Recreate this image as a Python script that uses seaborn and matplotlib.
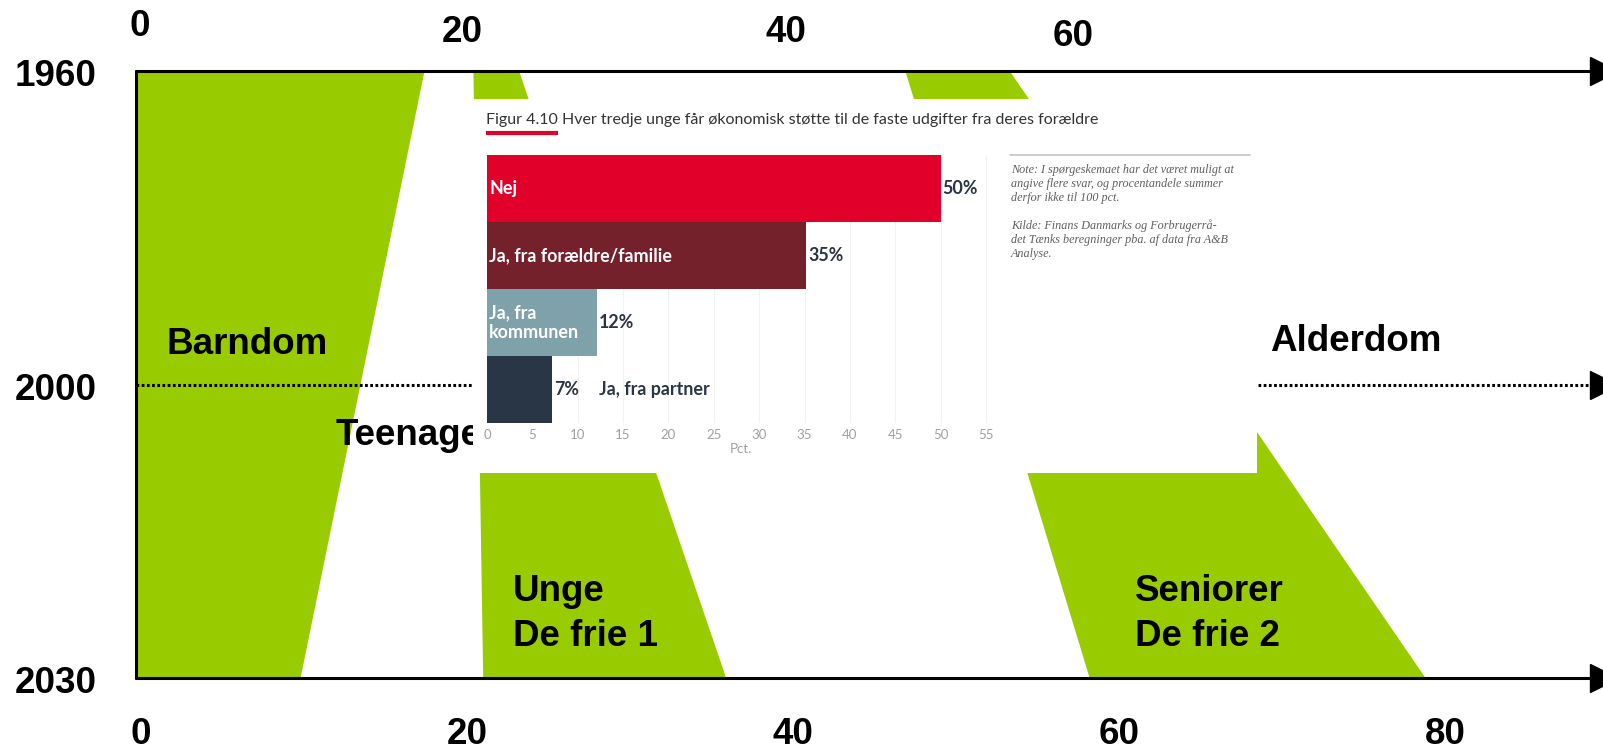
import numpy as np
import matplotlib.pyplot as plt
from matplotlib.lines import Line2D
import seaborn as sns

sns.set_theme(style='white')
plt.rcParams['font.family'] = ['Liberation Sans', 'DejaVu Sans']
plt.rcParams['text.color'] = 'black'

W, H = 1603, 750
GREEN = '#99CC00'

# livsfaser: alder ved fasens start/slut i 1960 og i 2030
phase_names = ['Barndom', 'Unge', 'Seniorer']
start_1960 = [0.0, 20.7, 47.2]
end_1960 = [17.7, 23.5, 53.6]
start_2030 = [0.0, 21.3, 58.5]
end_2030 = [10.1, 36.2, 79.1]

years = [1960, 2000, 2030]
year_rows = [0.0, 40.0, 77.3]   # lodret afstand mellem årslinjerne på sliden

ages_bottom = [0, 20, 40, 60, 80]
ages_top = [0, 20, 40, 60]
ages_top_x = [0.25, 20.0, 39.9, 57.5]

# indsat figur (Figur 4.10)
categories = ['Nej', 'Ja, fra forældre/familie', 'Ja, fra kommunen', 'Ja, fra partner']
shares = [50.0, 35.2, 12.1, 7.2]
share_labels = ['50%', '35%', '12%', '7%']
bar_colors = ['#E1002A', '#74212B', '#7FA1A9', '#283645']

title = 'Figur 4.10 Hver tredje unge får økonomisk støtte til de faste udgifter fra deres forældre'
note = ('Note: I spørgeskemaet har det været muligt at\n'
        'angive flere svar, og procentandele summer\n'
        'derfor ikke til 100 pct.\n'
        '\n'
        'Kilde: Finans Danmarks og Forbrugerrå-\n'
        'det Tænks beregninger pba. af data fra A&B\n'
        'Analyse.')


def px_box(left, top, right, bottom):
    return [left / W, 1 - bottom / H, (right - left) / W, (bottom - top) / H]


def fx(x):
    return x / W


def fy(y):
    return 1 - y / H


# årsaksen er ikke lineær på sliden -> stykvis lineær skala
slope2 = (year_rows[2] - year_rows[1]) / (years[2] - years[1])
yr_ext = [1900] + years + [2100]
row_ext = [year_rows[0] - 60] + year_rows + [year_rows[2] + 70 * slope2]


def fwd(y):
    return np.interp(y, yr_ext, row_ext)


def inv(r):
    return np.interp(r, row_ext, yr_ext)


fig = plt.figure(figsize=(W / 100, H / 100), dpi=100)
ax = fig.add_axes([0, 0, 1, 1])
ax.set_yscale('function', functions=(fwd, inv))
ax.set_xlim(-136 / 16.3, (W - 136) / 16.3)
ax.set_ylim(2037.4, 1950.96)
ax.axis('off')

# grønne faser
for i in range(len(phase_names)):
    ax.fill([start_1960[i], end_1960[i], end_2030[i], start_2030[i]],
            [years[0], years[0], years[-1], years[-1]],
            color=GREEN, lw=0, zorder=1)

# tidslinjer med pile
x_end = 89.4
for yr in years:
    if yr == 2000:
        ax.plot([0, x_end], [yr, yr], color='black', lw=2.2, dashes=(0.9, 0.8), zorder=3)
    else:
        ax.plot([0, x_end], [yr, yr], color='black', lw=2.2, zorder=3)
    ax.plot([90.05], [yr], marker='>', markersize=20, color='black', clip_on=False, zorder=3)
ax.plot([0, 0], [years[0], years[-1]], color='black', lw=2.2, zorder=3)

# tekster til faserne
big = dict(fontsize=26.5, fontweight='bold', color='black', va='center', ha='left', zorder=2)
ax.text(1.9, 1994.8, 'Barndom', **big)
ax.text(12.27, 2005.2, 'Teenage', **big)
ax.text(69.6, 1994.4, 'Alderdom', **big)
ax.text(23.1, 2023.5, 'Unge\nDe frie 1', linespacing=1.38, **big)
ax.text(61.3, 2023.5, 'Seniorer\nDe frie 2', linespacing=1.38, **big)

# årstal og aldre
num = dict(fontsize=26.5, fontweight='bold', color='black', ha='center', va='center',
           textcoords='offset pixels')
for yr in years:
    ax.annotate(str(yr), xy=(56 / W, yr), xycoords=ax.get_yaxis_transform(),
                xytext=(0, -6), **num)
for a in ages_bottom:
    ax.annotate(str(a), xy=(a + 0.3, fy(734)), xycoords=ax.get_xaxis_transform(),
                xytext=(0, 0), **num)
top_y = [27, 33, 32, 37]
for a, xa, ty in zip(ages_top, ages_top_x, top_y):
    ax.annotate(str(a), xy=(xa, fy(ty)), xycoords=ax.get_xaxis_transform(),
                xytext=(0, 0), **num)

# hvid baggrund til den indsatte figur
bg = fig.add_axes(px_box(473, 99, 1257, 473))
bg.set_xticks([])
bg.set_yticks([])
for s in bg.spines.values():
    s.set_visible(False)
bg.set_facecolor('white')

# søjlediagram
bax = fig.add_axes(px_box(487, 155, 995, 423))
sns.barplot(x=shares, y=categories, hue=categories, palette=bar_colors,
            saturation=1, width=1.0, legend=False, orient='h', ax=bax,
            linewidth=0, zorder=2)
bax.set_xlim(0, 56)
bax.set_xticks(range(0, 56, 5))
bax.xaxis.grid(True, color='#f2f2f2', lw=0.8)
bax.set_axisbelow(True)
bax.set_facecolor('white')
for s in bax.spines.values():
    s.set_visible(False)
bax.tick_params(axis='y', left=False, labelleft=False)
bax.tick_params(axis='x', length=0, labelsize=9.5, labelcolor='#a0a0a0', pad=4)
for lbl in bax.get_xticklabels():
    lbl.set_family('Lato')
bax.set_ylabel('')
bax.set_xlabel('Pct.', fontsize=9.5, color='#a0a0a0', family='Lato', labelpad=2)

lab = dict(fontsize=12.9, fontweight='bold', family='Lato', va='center', zorder=3)
bax.text(0.25, 0, 'Nej', color='white', **lab)
bax.text(0.25, 1, 'Ja, fra forældre/familie', color='white', **lab)
bax.text(0.25, 2, 'Ja, fra\nkommunen', color='white', linespacing=1.15, **lab)
bax.text(12.3, 3, 'Ja, fra partner', color='#283645', **lab)
for i, (v, t) in enumerate(zip(shares, share_labels)):
    bax.text(v + 0.2, i, t, color='#2B3441', **lab)

# titel, streger og note
fig.text(fx(486), fy(120), title, family='Lato', fontsize=11.5, color='#333333', va='center')
fig.add_artist(Line2D([fx(486), fx(558)], [fy(133), fy(133)], color='#E1002A', lw=3,
                      solid_capstyle='butt', transform=fig.transFigure))
fig.add_artist(Line2D([fx(1010), fx(1250)], [fy(155), fy(155)], color='#c4c4c4', lw=1.2,
                      transform=fig.transFigure))
fig.text(fx(1011), fy(164), note, family='Liberation Serif', style='italic',
         fontsize=8.7, color='#5f5f5f', va='top', linespacing=1.2)

fig.savefig('out.png', dpi=100)
